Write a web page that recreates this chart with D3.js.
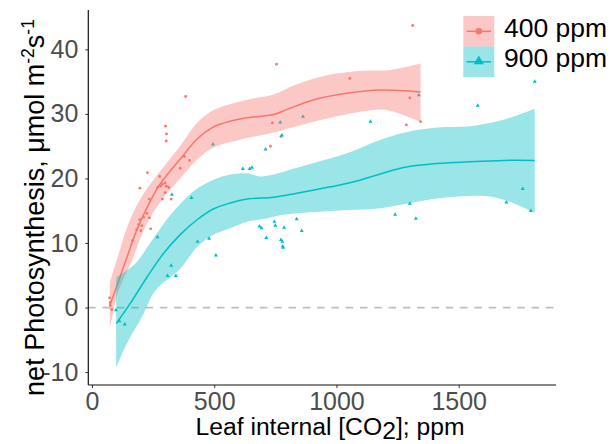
<!DOCTYPE html>
<html><head><meta charset="utf-8">
<script src="https://cdn.jsdelivr.net/npm/d3@7"></script>
<style>
html,body{margin:0;padding:0;background:#fff;}
svg{display:block;font-family:"Liberation Sans",Arial,sans-serif;}
</style></head>
<body><svg id="chart" width="613" height="444"></svg>
<script>
// ---------- data ----------
const seriesNames = ["400 ppm", "900 ppm"];
const seriesColors = ["#F8766D", "#00BFC4"];
const xTicks = [0, 500, 1000, 1500];
const yTicks = [-10, 0, 10, 20, 30, 40];

// observed points [ci, A]
const pts400 = [[72,1.5],[75,0.8],[75,0.3],[81,-0.3],[166,10.4],[183,12.1],[191,12.9],[195,13.6],[200,11.9],[204,12.7],
  [211,14.0],[225,14.6],[235,13.9],[240,12.2],[196,18.5],[234,16.8],[227,20.9],[277,20.3],[268,18.6],[280,18.8],
  [288,19.1],[299,19.3],[304,18.8],[314,18.6],[288,16.8],[324,16.8],[299,17.8],[301,28.1],[305,26.9],[304,25.8],
  [361,21.6],[378,23.4],[399,22.8],[383,32.7],[730,25.0],[738,28.6],[773,26.5],[755,37.7],[1055,35.5],[1286,28.3],
  [1300,32.5],[1312,43.7],[1344,28.8]];
const pts900 = [[98,-0.4],[112,-2.1],[134,-2.6],[268,10.9],[309,4.9],[324,6.5],[343,4.9],[327,17.5],[407,17.0],[432,10.2],
  [479,10.7],[507,8.1],[495,25.3],[617,21.5],[645,21.5],[654,21.7],[685,12.6],[693,12.3],[710,24.5],[713,10.8],
  [746,13.3],[750,12.7],[770,28.7],[777,26.7],[773,10.5],[779,10.2],[780,9.5],[782,9.3],[786,12.4],[837,13.7],
  [858,11.9],[863,29.6],[1139,28.8],[1240,14.4],[1300,16.1],[1325,13.8],[1337,32.9],[1578,31.3],[1695,16.3],[1762,18.4],
  [1795,15.0],[1811,35.0]];

// smooth fits and confidence bands
const fit400 = [[73,0.3],[106,3.8],[144,7.9],[181,11.8],[229,15.8],[276,19.0],[323,21.3],[370,23.4],[427,26.0],[498,28.0],
  [568,28.9],[635,29.4],[743,29.9],[798,30.7],[907,32.2],[1043,33.2],[1180,33.7],[1344,33.4]];
const upper400 = [[73,3.9],[109,8.3],[149,13.0],[204,17.2],[272,20.8],[356,24.8],[430,28.6],[498,30.6],[635,32.2],[743,33.0],
  [838,34.6],[975,36.1],[1111,36.7],[1220,36.8],[1344,37.8]];
const lower400 = [[73,-3.3],[109,2.6],[164,7.3],[218,12.5],[286,16.7],[368,20.3],[430,22.9],[498,24.8],[606,26.0],[730,27.0],
  [838,28.1],[975,29.4],[1111,30.4],[1180,30.7],[1220,30.5],[1344,28.8]];
const fit900 = [[99,-2.5],[156,0.6],[225,4.7],[293,8.4],[361,11.3],[430,13.6],[498,15.3],[566,16.2],[635,16.8],[743,17.1],
  [838,17.7],[975,18.7],[1071,19.5],[1180,20.7],[1275,21.7],[1411,22.3],[1548,22.6],[1684,22.8],[1811,22.8]];
const upper900 = [[99,4.7],[177,6.8],[245,10.4],[327,14.6],[422,18.2],[498,19.8],[566,20.6],[635,20.8],[688,20.3],[743,20.6],
  [823,21.5],[907,22.4],[1043,23.9],[1180,26.0],[1275,27.1],[1411,27.9],[1548,28.1],[1684,29.1],[1811,30.8]];
const lower900 = [[99,-9.3],[149,-5.1],[204,-1.5],[259,2.6],[361,6.0],[430,9.4],[498,11.3],[566,12.3],[635,13.3],[702,13.7],
  [770,14.3],[907,14.8],[1043,15.1],[1180,15.4],[1275,16.0],[1411,16.9],[1548,17.3],[1645,17.1],[1729,16.1],[1811,14.7]];

// ---------- layout ----------
const svg = d3.select("#chart");
const x = d3.scaleLinear().domain([-15, 1898]).range([88.3, 556]);
const y = d3.scaleLinear().domain([-12, 46.1]).range([385, 10]);
const grey = "#4D4D4D";

// dashed zero line
svg.append("line").attr("x1", x.range()[0]).attr("x2", x.range()[1])
  .attr("y1", y(0)).attr("y2", y(0))
  .attr("stroke", "#BEBEBE").attr("stroke-width", 1.7).attr("stroke-dasharray", "7.5,6.8");

// points (drawn under the smooths)
const tri = d3.symbol().type(d3.symbolTriangle).size(7);
svg.append("g").selectAll("circle").data(pts400).join("circle")
  .attr("cx", d => x(d[0])).attr("cy", d => y(d[1])).attr("r", 1.4).attr("fill", seriesColors[0]);
svg.append("g").selectAll("path").data(pts900).join("path")
  .attr("d", tri).attr("transform", d => `translate(${x(d[0])},${y(d[1])})`).attr("fill", seriesColors[1]);

// smooths
const line = d3.line().x(d => x(d[0])).y(d => y(d[1])).curve(d3.curveCatmullRom.alpha(0.5));
function ribbon(up, lo) {
  const a = line(up);
  const b = line(lo.slice().reverse());
  return a + "L" + b.slice(1) + "Z";
}
const sets = [[upper400, lower400, fit400], [upper900, lower900, fit900]];
sets.forEach((s, i) => {
  svg.append("path").attr("d", ribbon(s[0], s[1])).attr("fill", seriesColors[i]).attr("fill-opacity", 0.4);
  svg.append("path").attr("d", line(s[2])).attr("fill", "none").attr("stroke", seriesColors[i]).attr("stroke-width", 1.5);
});

// axes
const gx = svg.append("g").attr("transform", `translate(0,385)`)
  .call(d3.axisBottom(x).tickValues(xTicks).tickSize(3).tickPadding(4).tickFormat(d => String(d)));
const gy = svg.append("g").attr("transform", `translate(88.3,0)`)
  .call(d3.axisLeft(y).tickValues(yTicks).tickSize(3).tickPadding(7).tickFormat(d => String(d)));
[gx, gy].forEach(g => {
  g.select(".domain").remove();
  g.selectAll(".tick line").attr("stroke", "#333").attr("stroke-width", 1);
  g.selectAll(".tick text").attr("fill", grey).style("font-size", "25px")
    .style("font-family", '"Liberation Sans",Arial,sans-serif');
});
svg.append("line").attr("x1", 88.3).attr("x2", 556).attr("y1", 385).attr("y2", 385).attr("stroke", "#111").attr("stroke-width", 1.2);
svg.append("line").attr("x1", 88.3).attr("x2", 88.3).attr("y1", 10).attr("y2", 385).attr("stroke", "#111").attr("stroke-width", 1.2);

// axis titles
const xt = svg.append("text").attr("x", 330).attr("y", 435).attr("text-anchor", "middle")
  .style("font-size", "24.7px").attr("fill", "#000");
xt.append("tspan").text("Leaf internal [CO");
xt.append("tspan").attr("dy", 4).text("2");
xt.append("tspan").attr("dy", -4).text("]; ppm");

const yt = svg.append("text").attr("transform", "translate(43.5,207.5) rotate(-90)").attr("text-anchor", "middle")
  .style("font-size", "27px").attr("fill", "#000");
yt.append("tspan").text("net Photosynthesis, μmol m");
yt.append("tspan").attr("dy", -10).style("font-size", "17.5px").text("-2");
yt.append("tspan").attr("dy", 10).text("s");
yt.append("tspan").attr("dy", -10).style("font-size", "17.5px").text("-1");

// legend
const lg = svg.append("g");
seriesNames.forEach((name, i) => {
  const top = 16 + i * 30.5;
  lg.append("rect").attr("x", 463.3).attr("y", top).attr("width", 31).attr("height", 30.5)
    .attr("fill", seriesColors[i]).attr("fill-opacity", 0.4);
  lg.append("line").attr("x1", 466.5).attr("x2", 491).attr("y1", top + 15.3).attr("y2", top + 15.3)
    .attr("stroke", seriesColors[i]).attr("stroke-width", 1.5);
  if (i === 0) {
    lg.append("circle").attr("cx", 478.8).attr("cy", top + 15.3).attr("r", 3.3).attr("fill", seriesColors[i]);
  } else {
    lg.append("path").attr("d", d3.symbol().type(d3.symbolTriangle).size(45))
      .attr("transform", `translate(478.8,${top + 14.8})`).attr("fill", seriesColors[i]);
  }
  lg.append("text").attr("x", 504).attr("y", top + 20.7).style("font-size", "26.5px").attr("fill", "#000").text(name);
});
</script></body></html>
